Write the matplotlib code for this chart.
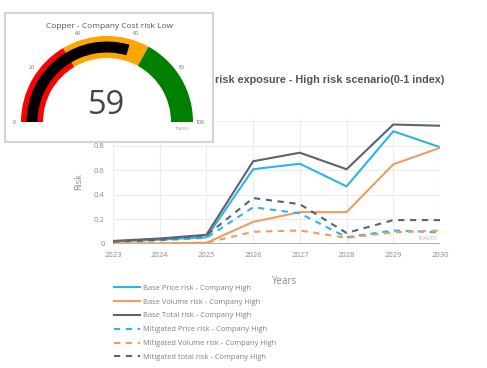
import numpy as np
import matplotlib
matplotlib.use("Agg")
import matplotlib.pyplot as plt
from matplotlib.patches import Wedge

plt.rcParams.update({"font.family": ["Open Sans", "DejaVu Sans"]})

# ---------- data ----------
years = [2023, 2024, 2025, 2026, 2027, 2028, 2029, 2030]
base_price = [0.02, 0.035, 0.055, 0.61, 0.655, 0.47, 0.92, 0.79]
base_volume = [0.005, 0.005, 0.01, 0.18, 0.26, 0.26, 0.65, 0.785]
base_total = [0.025, 0.045, 0.075, 0.675, 0.745, 0.61, 0.975, 0.965]
mit_price = [0.02, 0.03, 0.05, 0.30, 0.25, 0.055, 0.11, 0.095]
mit_volume = [0.005, 0.005, 0.01, 0.10, 0.11, 0.05, 0.095, 0.11]
mit_total = [0.02, 0.035, 0.07, 0.375, 0.325, 0.09, 0.195, 0.195]
series_labels = ["Base Price risk - Company High", "Base Volume risk - Company High",
                 "Base Total risk - Company High", "Mitigated Price risk - Company High",
                 "Mitigated Volume risk - Company High", "Mitigated total risk - Company High"]

gauge_value = 59
gauge_bands = [(0, 33, "#ff0000"), (33, 66, "#ffa500"), (66, 100, "#008000")]
gauge_ticks = [0, 20, 40, 60, 80, 100]

BLUE, ORANGE, DARK = "#2cb5e3", "#ee9d62", "#5b6270"
W, H = 487, 368

fig = plt.figure(figsize=(W / 100, H / 100), dpi=100)

# ---------- main line chart ----------
ax = fig.add_axes([113 / W, 1 - 244 / H, 327 / W, 125 / H])
dash = (0, (3, 2.7))
ax.plot(years, base_price, color=BLUE, lw=1.5, label=series_labels[0])
ax.plot(years, base_volume, color=ORANGE, lw=1.5, label=series_labels[1])
ax.plot(years, base_total, color=DARK, lw=1.5, label=series_labels[2])
ax.plot(years, mit_price, color=BLUE, lw=1.5, ls=dash, label=series_labels[3])
ax.plot(years, mit_volume, color=ORANGE, lw=1.5, ls=dash, label=series_labels[4])
ax.plot(years, mit_total, color=DARK, lw=1.5, ls=dash, label=series_labels[5])
ax.axhline(0, color="#a8a8a8", lw=1.3, zorder=1)
ax.set_xlim(2023, 2030)
ax.set_ylim(0, 1.02)
ax.set_xticks(years)
ax.set_yticks([0, 0.2, 0.4, 0.6, 0.8, 1.0])
# the "1" label sits under the gauge card, so leave it blank
ax.set_yticklabels(["0", "0.2", "0.4", "0.6", "0.8", ""])
ax.tick_params(length=0, labelsize=5.5, labelcolor="#8a8a8a", pad=6)
ax.grid(color="#ececec", lw=0.8)
ax.set_axisbelow(True)
for s in ax.spines.values():
    s.set_visible(False)
ax.set_ylabel("Risk", fontsize=6.5, color="#8a8a8a", labelpad=8)
fig.text(285 / W, 1 - 282 / H, "Years", fontsize=7, color="#8a8a8a", ha="center", va="center")
fig.text(215 / W, 1 - 80 / H, "risk exposure - High risk scenario(0-1 index)",
         fontsize=7.8, fontweight="bold", color="#555555", family="Liberation Sans",
         ha="left", va="center")
fig.text(428 / W, 1 - 238 / H, "TRADES", fontsize=4, color="#b8b8b8", ha="center", va="center")

ax.legend(loc="upper left", bbox_to_anchor=(114 / W, 1 - 284.5 / H), bbox_transform=fig.transFigure,
          frameon=False, fontsize=5.4, labelcolor="#808080", handlelength=3.4, handletextpad=0.45,
          labelspacing=0.88, borderaxespad=0, borderpad=0)

# ---------- gauge inset ----------
gx = fig.add_axes([5 / W, 1 - 142 / H, 208 / W, 129 / H])
gx.set_xlim(0, 208)
gx.set_ylim(0, 129)
gx.set_xticks([]); gx.set_yticks([])
gx.set_facecolor("white")
for s in gx.spines.values():
    s.set_color("#d4d4d4"); s.set_linewidth(1.5)
cx, cy = 102, 20
for lo, hi, col in gauge_bands:
    gx.add_patch(Wedge((cx, cy), 86, 180 - 1.8 * hi, 180 - 1.8 * lo, width=22, color=col, lw=0))
gx.add_patch(Wedge((cx, cy), 80.5, 180 - 1.8 * gauge_value, 180, width=11, color="black", lw=0))
for t in gauge_ticks:
    a = np.deg2rad(180 - 1.8 * t)
    gx.text(cx + 93 * np.cos(a), cy + 93 * np.sin(a), str(t), fontsize=3.8, color="#666666",
            ha="center", va="center")
gx.text(cx, 37, str(gauge_value), fontsize=23.5, color="#444444", ha="center", va="center")
gx.text(104, 116, "Copper - Company Cost risk Low", fontsize=6, color="#555555", ha="center", va="center")
gx.text(177, 13, "TRADES", fontsize=3, color="#9aa0b0", ha="center", va="center")

fig.savefig("out.png", dpi=100)
